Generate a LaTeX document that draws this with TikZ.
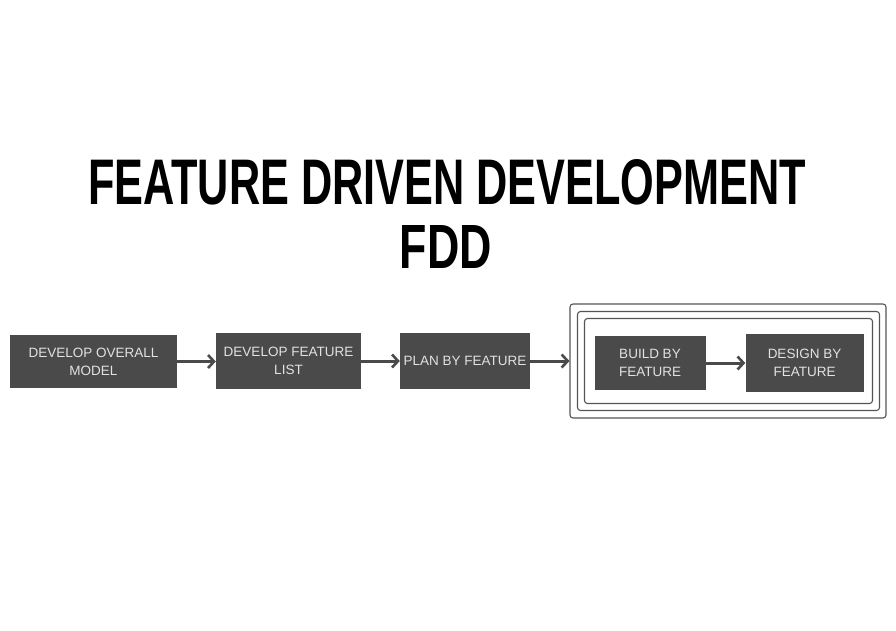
\documentclass[tikz,border=0pt]{standalone}
\usepackage{fontspec}
\setmainfont{Liberation Sans}
\usetikzlibrary{arrows.meta}
\definecolor{boxgray}{HTML}{4A4A4A}
\definecolor{txtgray}{HTML}{E2E2E2}
\definecolor{framegray}{HTML}{555555}
\begin{document}
\begin{tikzpicture}[x=1pt,y=-1pt,
  stepbox/.style={fill=boxgray, draw=none, inner sep=0pt, text=txtgray, align=center,
    font=\fontsize{13.5}{18}\selectfont},
  framebox/.style={draw=framegray, line width=1.1pt, rounded corners=3pt, inner sep=0pt, fill=none},
  flow/.style={draw=boxgray, line width=3pt, -{Straight Barb[length=6pt,width=13pt,line width=2.6pt]}},
  titletext/.style={inner sep=0pt, text=black}]
\useasboundingbox[fill=white] (0,0) rectangle (896,630);
\node[titletext] (t1) at (447,182.5) {\resizebox{718pt}{45pt}{\bfseries FEATURE DRIVEN DEVELOPMENT}};
\node[titletext] (t2) at (446,246.5) {\resizebox{92pt}{43pt}{\bfseries FDD}};
\node[stepbox, minimum width=167pt, minimum height=53pt] (b1) at (93.5,361.5) {DEVELOP OVERALL\\MODEL};
\node[stepbox, minimum width=145pt, minimum height=56pt] (b2) at (288.5,361) {DEVELOP FEATURE\\LIST};
\node[stepbox, minimum width=130pt, minimum height=56pt] (b3) at (465,361) {PLAN BY FEATURE};
\node[framebox, minimum width=316pt, minimum height=114pt] (f1) at (728,361) {};
\node[framebox, minimum width=302pt, minimum height=99pt] (f2) at (728.5,361) {};
\node[framebox, minimum width=288pt, minimum height=85pt] (f3) at (728.5,361) {};
\node[stepbox, minimum width=111pt, minimum height=54pt] (b4) at (650,363) {BUILD BY\\FEATURE};
\node[stepbox, minimum width=118pt, minimum height=58pt] (b5) at (804.5,363) {DESIGN BY\\FEATURE};
\draw[flow] (b1.east) -- (b1.east -| b2.west);
\draw[flow] (b2.east) -- (b2.east -| b3.west);
\draw[flow] (b3.east) -- (b3.east -| f1.west);
\draw[flow] (b4.east) -- (b4.east -| b5.west);
\end{tikzpicture}
\end{document}
